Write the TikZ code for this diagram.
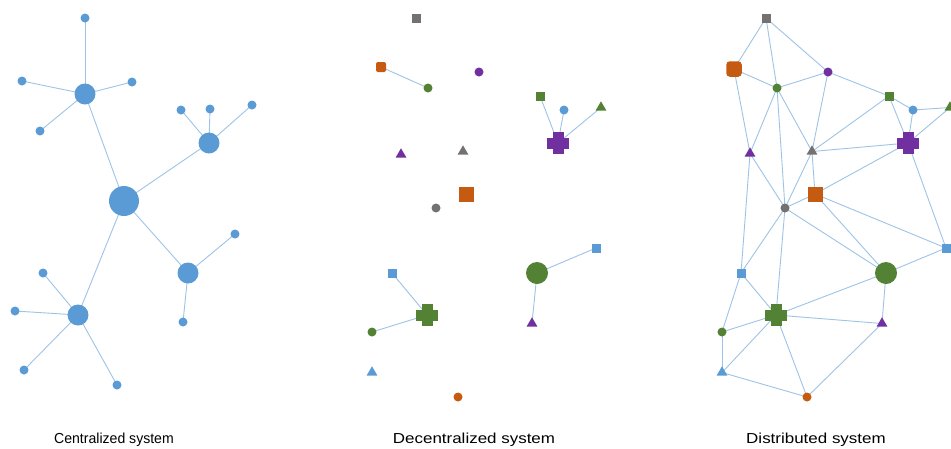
\documentclass[tikz,border=0pt]{standalone}
\usepackage{fontspec}
\setmainfont{Liberation Sans}
\usetikzlibrary{shapes.geometric,backgrounds}
\definecolor{cblue}{HTML}{5B9BD5}
\definecolor{corange}{HTML}{C55A11}
\definecolor{cgreen}{HTML}{548235}
\definecolor{cpurple}{HTML}{7030A0}
\definecolor{cgray}{HTML}{767171}
\definecolor{linkblue}{HTML}{9DC3E6}
\begin{document}
\begin{tikzpicture}[x=1pt,y=-1pt,
  every node/.style={inner sep=0pt, outer sep=0pt},
  link/.style={draw=linkblue, line width=0.9pt},
  dot/.style={circle, fill=#1, minimum size=9pt},
  hubdot/.style={circle, fill=#1, minimum size=21pt},
  bigdot/.style={circle, fill=#1, minimum size=22pt},
  rootdot/.style={circle, fill=#1, minimum size=30pt},
  sq/.style={rectangle, fill=#1, minimum size=9pt},
  bigsq/.style={rectangle, fill=#1, minimum size=15pt},
  octsmall/.style={rectangle, rounded corners=2pt, fill=#1, minimum size=10pt},
  octbig/.style={rectangle, rounded corners=3.5pt, fill=#1, minimum size=15.5pt},
  tri/.style={regular polygon, regular polygon sides=3, fill=#1, minimum size=12.5pt, yshift=-1.5pt},
  plus/.style={rectangle, minimum size=22pt, path picture={
      \fill[#1] ([xshift=-5.5pt,yshift=-11pt]path picture bounding box.center)
        rectangle ([xshift=5.5pt,yshift=11pt]path picture bounding box.center);
      \fill[#1] ([xshift=-11pt,yshift=-5.5pt]path picture bounding box.center)
        rectangle ([xshift=11pt,yshift=5.5pt]path picture bounding box.center);}},
  caption/.style={font=\fontsize{14.5}{17}\selectfont, anchor=base, xscale=1.17},
  smallcaption/.style={font=\fontsize{14.5}{17}\selectfont, anchor=base, xscale=0.97}
]
\useasboundingbox (0,0) rectangle (951,448);

% ---------- centralized: one root, four hubs, leaves ----------
\node[rootdot=cblue] (c0) at (124,201) {};
\node[hubdot=cblue] (ca) at (85,94) {};
\node[hubdot=cblue] (cb) at (209,143) {};
\node[hubdot=cblue] (cd) at (188,273) {};
\node[hubdot=cblue] (ce) at (78,315) {};
\node[dot=cblue] (ca1) at (85,18) {};
\node[dot=cblue] (ca2) at (22,81) {};
\node[dot=cblue] (ca3) at (132,82) {};
\node[dot=cblue] (ca4) at (40,131) {};
\node[dot=cblue] (cb1) at (181,110) {};
\node[dot=cblue] (cb2) at (210,109) {};
\node[dot=cblue] (cb3) at (252,105) {};
\node[dot=cblue] (cd1) at (235,234) {};
\node[dot=cblue] (cd2) at (183,322) {};
\node[dot=cblue] (ce1) at (43,273) {};
\node[dot=cblue] (ce2) at (15,311) {};
\node[dot=cblue] (ce3) at (24,370) {};
\node[dot=cblue] (ce4) at (117,385) {};

% ---------- decentralized ----------
\node[sq=cgray] (m1) at (416,18) {};
\node[octsmall=corange] (m2) at (381,67) {};
\node[dot=cgreen] (m3) at (428,88) {};
\node[dot=cpurple] (m4) at (479,72) {};
\node[sq=cgreen] (m5) at (540,96) {};
\node[dot=cblue] (m6) at (564,110) {};
\node[tri=cgreen] (m7) at (601,106) {};
\node[plus=cpurple] (m8) at (558,143) {};
\node[tri=cpurple] (m9) at (401,153) {};
\node[tri=cgray] (m10) at (463,150) {};
\node[bigsq=corange] (m11) at (466,194) {};
\node[dot=cgray] (m12) at (436,208) {};
\node[sq=cblue] (m13) at (596,248) {};
\node[bigdot=cgreen] (m14) at (537,273) {};
\node[sq=cblue] (m15) at (392,273) {};
\node[plus=cgreen] (m16) at (427,315) {};
\node[dot=cgreen] (m17) at (372,332) {};
\node[tri=cpurple] (m18) at (532,322) {};
\node[tri=cblue] (m19) at (372,371) {};
\node[dot=corange] (m20) at (458,397) {};

% ---------- distributed ----------
\node[sq=cgray] (d1) at (766,18) {};
\node[octbig=corange] (d2) at (734,69) {};
\node[dot=cgreen] (d3) at (777,88) {};
\node[dot=cpurple] (d4) at (828,72) {};
\node[sq=cgreen] (d5) at (889,96) {};
\node[dot=cblue] (d6) at (913,110) {};
\node[tri=cgreen] (d7) at (950,106) {};
\node[plus=cpurple] (d8) at (908,143) {};
\node[tri=cpurple] (d9) at (750,152) {};
\node[tri=cgray] (d10) at (812,150) {};
\node[bigsq=corange] (d11) at (815,194) {};
\node[dot=cgray] (d12) at (785,208) {};
\node[sq=cblue] (d13) at (946,248) {};
\node[bigdot=cgreen] (d14) at (886,273) {};
\node[sq=cblue] (d15) at (741,273) {};
\node[plus=cgreen] (d16) at (776,315) {};
\node[dot=cgreen] (d17) at (722,332) {};
\node[tri=cpurple] (d18) at (882,322) {};
\node[tri=cblue] (d19) at (722,371) {};
\node[dot=corange] (d20) at (807,397) {};

% ---------- links, drawn under the nodes ----------
\begin{scope}[on background layer]
  \foreach \a/\b in {c0/ca,c0/cb,c0/cd,c0/ce,
      ca/ca1,ca/ca2,ca/ca3,ca/ca4,cb/cb1,cb/cb2,cb/cb3,
      cd/cd1,cd/cd2,ce/ce1,ce/ce2,ce/ce3,ce/ce4,
      m2/m3,m5/m8,m6/m8,m7/m8,m13/m14,m14/m18,m15/m16,m16/m17,
      d1/d2,d1/d3,d1/d4,d2/d3,d2/d9,d3/d4,d3/d9,d3/d10,d3/d12,
      d4/d5,d4/d10,d5/d6,d5/d10,d5/d8,d6/d7,d6/d8,d7/d8,
      d10/d8,d10/d12,d10/d11,d8/d11,d8/d13,d9/d12,d9/d15,
      d12/d11,d12/d15,d12/d16,d12/d14,d11/d14,d11/d13,d13/d14,
      d14/d16,d14/d18,d15/d16,d15/d17,d16/d17,d16/d18,d16/d19,
      d16/d20,d17/d19,d19/d20,d18/d20}
    \draw[link] (\a.center) -- (\b.center);
\end{scope}

% ---------- captions ----------
\node[smallcaption] (t1) at (114,443.5) {Centralized system};
\node[caption] (t2) at (474,443.5) {Decentralized system};
\node[caption] (t3) at (816,443.5) {Distributed system};
\end{tikzpicture}
\end{document}
